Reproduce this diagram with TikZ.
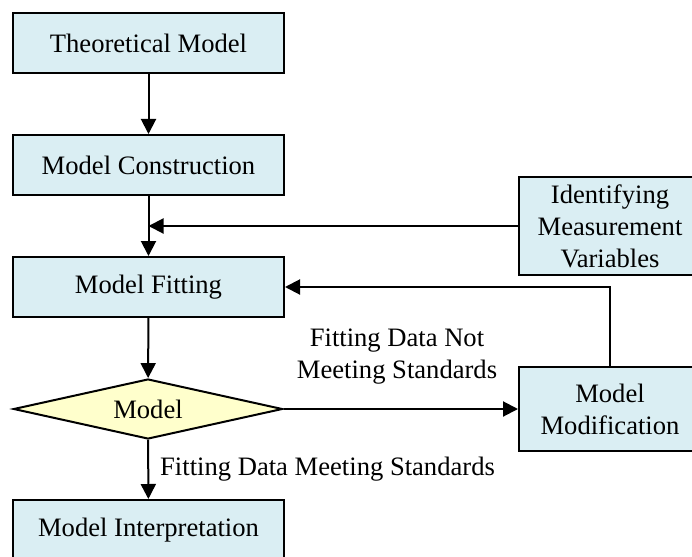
\documentclass[tikz,border=0pt]{standalone}
\usepackage{fontspec}
\setmainfont{Liberation Serif}
\usetikzlibrary{arrows.meta,shapes.geometric}
\definecolor{boxfill}{HTML}{DAEEF3}
\definecolor{decfill}{HTML}{FFFFCC}
\begin{document}
\begin{tikzpicture}[x=1pt,y=-1pt,
  every node/.style={font=\fontsize{26.6}{32}\selectfont},
  procbox/.style={draw=black,fill=boxfill,line width=2pt,inner sep=0pt,align=center},
  decbox/.style={draw=black,fill=decfill,line width=2pt,diamond,aspect=4.48,inner sep=0pt,minimum width=269pt,minimum height=60pt},
  lbl/.style={align=center,inner sep=0pt},
  conn/.style={line width=2pt,-{Triangle[length=15pt,width=15pt]}},
  plain/.style={line width=2pt}]
\clip (0,0) rectangle (692,556);
\useasboundingbox (0,0) rectangle (692,556);
\node[procbox,minimum width=271pt,minimum height=60pt] (tm) at (148.5,43) {Theoretical Model};
\node[procbox,minimum width=271pt,minimum height=60pt] (mc) at (148.5,165) {Model Construction};
\node[procbox,minimum width=271pt,minimum height=60pt] (mf) at (148.5,287) {Model Fitting};
\node[decbox] (dm) at (148,409) {};
\node[lbl] at (148,409) {Model};
\node[procbox,minimum width=271pt,minimum height=60pt] (mi) at (148.5,530) {Model Interpretation};
\node[procbox,minimum width=182pt,minimum height=98pt] (id) at (610,226) {Identifying\\Measurement\\Variables};
\node[procbox,minimum width=182pt,minimum height=84pt] (mm) at (610,409) {Model\\Modification};
\coordinate (j1) at (148.5,226);
\coordinate (k1) at (610,287);
\draw[conn] (tm) -- (mc);
\draw[conn] (mc) -- (mf);
\draw[conn] (id.west) -- (j1);
\draw[conn] (mf) -- (dm);
\draw[conn] (dm.east) -- (mm.west |- dm.east);
\draw[conn] (dm) -- (mi);
\draw[conn] (mm.north) -- (k1) -- (mf.east);
\node[lbl] at (397,357) {Fitting Data Not\\Meeting Standards};
\node[lbl,anchor=base west] at (160,475) {Fitting Data Meeting Standards};
\end{tikzpicture}
\end{document}
